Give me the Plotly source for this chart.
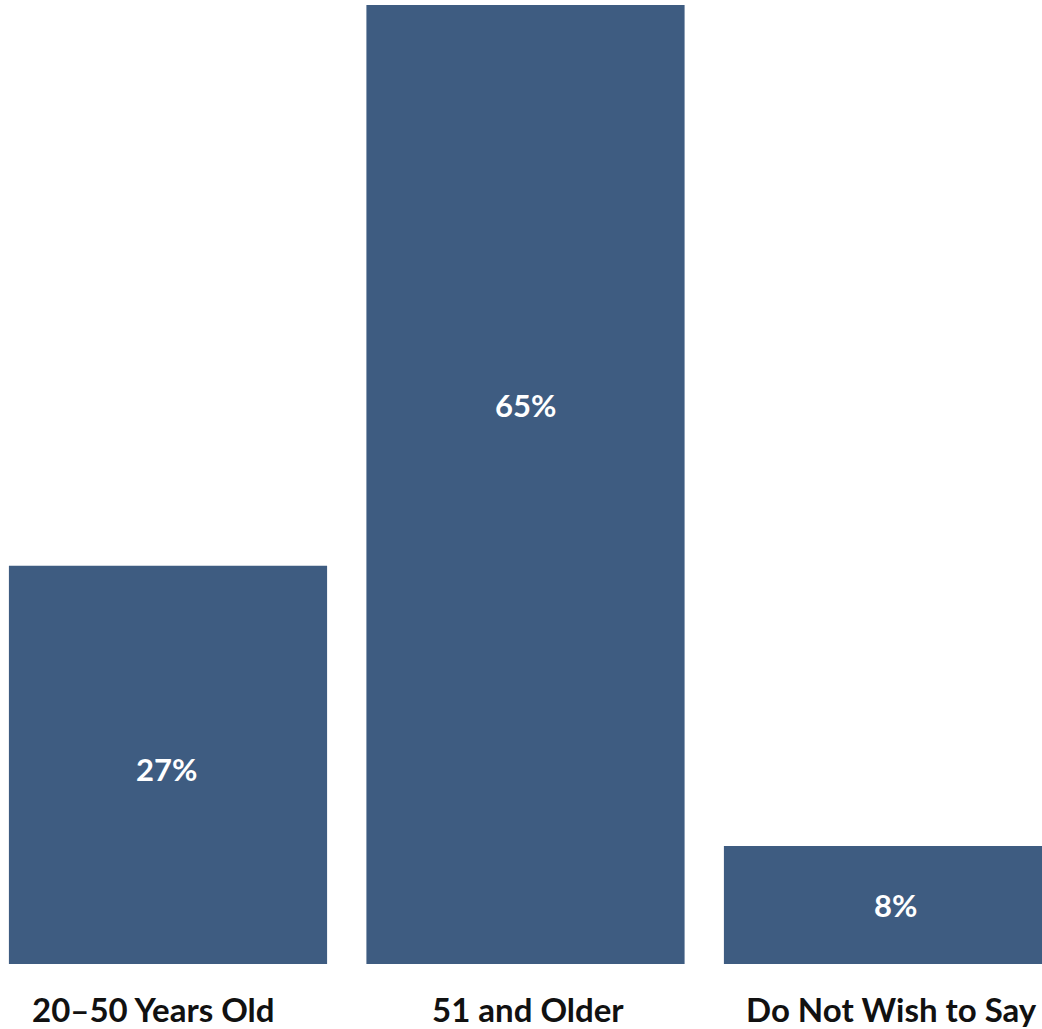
import plotly.graph_objects as go

categories = ["20–50 Years Old", "51 and Older", "Do Not Wish to Say"]
shares = [27, 65, 8]
labels = [f"{v}%" for v in shares]

BAR_COLOR = "#3E5C81"
FONT = "Lato"

# small nudges for the value labels (px) and category labels (px, rightward)
value_label_lift = [-4, 80, 0]
value_label_nudge = [-2, 0, 12]
category_label_nudge = [-15, 2, 8]

x_idx = list(range(len(categories)))

fig = go.Figure(
    go.Bar(
        x=x_idx,
        y=shares,
        width=0.89,
        marker=dict(color=BAR_COLOR, line=dict(width=0)),
        hoverinfo="skip",
    )
)

annotations = []
for i, (v, lab) in enumerate(zip(shares, labels)):
    annotations.append(
        dict(
            x=i, y=v / 2, xref="x", yref="y",
            text=lab, showarrow=False,
            xshift=value_label_nudge[i], yshift=value_label_lift[i],
            xanchor="center", yanchor="middle",
            font=dict(family=FONT, size=31, color="white", weight="bold"),
        )
    )
for i, cat in enumerate(categories):
    annotations.append(
        dict(
            x=i, y=0, xref="x", yref="paper",
            text=cat, showarrow=False,
            xshift=category_label_nudge[i], yshift=-45,
            xanchor="center", yanchor="middle",
            font=dict(family=FONT, size=33, color="#111111", weight="bold"),
        )
    )

fig.update_layout(
    width=1042,
    height=1029,
    margin=dict(l=0, r=0, t=0, b=65),
    paper_bgcolor="white",
    plot_bgcolor="white",
    showlegend=False,
    annotations=annotations,
)

fig.update_xaxes(
    range=[-168 / 357.5, (1042 - 168) / 357.5],
    showticklabels=False,
    showgrid=False,
    zeroline=False,
    showline=False,
    ticks="",
)
fig.update_yaxes(
    range=[0, 65 * 964 / 959],
    visible=False,
    showgrid=False,
    zeroline=False,
)

fig.write_html("out.html")
